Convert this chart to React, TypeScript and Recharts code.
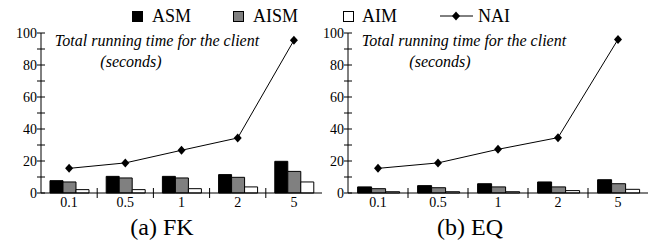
import React from "react";
import { ComposedChart, Bar, Line, XAxis, YAxis } from "recharts";

const categories = ["0.1", "0.5", "1", "2", "5"];
const yTicks = [0, 10, 20, 30, 40, 50, 60, 70, 80, 90, 100];

// (a) FK
const fkAsm = [7.7, 10.4, 10.4, 11.5, 19.8];
const fkAism = [6.9, 9.4, 9.4, 9.8, 13.5];
const fkAim = [2.1, 2.1, 2.7, 3.8, 6.9];
const fkNai = [15.4, 18.8, 26.7, 34.4, 95.4];

// (b) EQ
const eqAsm = [3.8, 4.6, 5.8, 6.9, 8.3];
const eqAism = [2.7, 3.3, 3.8, 3.8, 5.8];
const eqAim = [0.8, 0.8, 0.8, 1.5, 2.3];
const eqNai = [15.4, 18.8, 27.3, 34.6, 96];

const FONT = '"Liberation Serif", "Times New Roman", Times, "DejaVu Serif", serif';
const txt = { fontFamily: FONT };

const buildRows = (asm: number[], aism: number[], aim: number[], nai: number[]) =>
  categories.map((c, i) => ({ name: c, ASM: asm[i], AISM: aism[i], AIM: aim[i], NAI: nai[i] }));

const YTick = (props: any) => {
  const { x, y, payload } = props;
  return (
    <g>
      <line x1={x - 4} x2={x + 4} y1={y} y2={y} stroke="#000" strokeWidth={1} />
      {payload.value % 20 === 0 && (
        <text x={x - 4} y={y + 5} textAnchor="end" fontSize={14} style={txt} fill="#000">
          {payload.value}
        </text>
      )}
    </g>
  );
};

const XTick = (props: any) => {
  const { x, y, payload, index } = props;
  const half = payload.offset || 28;
  return (
    <g>
      {index < categories.length - 1 && (
        <line x1={x + half} x2={x + half} y1={y - 5} y2={y + 5} stroke="#000" strokeWidth={1} />
      )}
      <text x={x} y={y + 14} textAnchor="middle" fontSize={14} style={txt} fill="#000">
        {payload.value}
      </text>
    </g>
  );
};

const Diamond = (props: any) => {
  const { cx, cy } = props;
  if (cx == null || cy == null) return null;
  return <polygon points={`${cx},${cy - 4.5} ${cx + 4},${cy} ${cx},${cy + 4.5} ${cx - 4},${cy}`} fill="#000" />;
};

function Panel({ data, width, right }: { data: any[]; width: number; right: number }) {
  return (
    <ComposedChart
      width={width}
      height={242}
      data={data}
      margin={{ top: 33, right, bottom: 29, left: 0 }}
      barCategoryGap="16%"
      barGap={0}
    >
      <XAxis
        dataKey="name"
        height={20}
        axisLine={{ stroke: "#000" }}
        tickLine={false}
        tickSize={0}
        tickMargin={0}
        interval={0}
        tick={<XTick />}
      />
      <YAxis
        type="number"
        domain={[0, 100]}
        ticks={yTicks}
        width={41}
        axisLine={{ stroke: "#000" }}
        tickLine={false}
        tickSize={0}
        tickMargin={0}
        interval={0}
        tick={<YTick />}
      />
      <Bar dataKey="ASM" fill="#000" stroke="#000" strokeWidth={1} isAnimationActive={false} />
      <Bar dataKey="AISM" fill="#808080" stroke="#000" strokeWidth={1} isAnimationActive={false} />
      <Bar dataKey="AIM" fill="#fff" stroke="#000" strokeWidth={1} isAnimationActive={false} />
      <Line
        dataKey="NAI"
        stroke="#000"
        strokeWidth={1}
        dot={<Diamond />}
        activeDot={false}
        isAnimationActive={false}
      />
    </ComposedChart>
  );
}

export default function App() {
  const fk = buildRows(fkAsm, fkAism, fkAim, fkNai);
  const eq = buildRows(eqAsm, eqAism, eqAim, eqNai);
  return (
    <div style={{ position: "absolute", left: 0, top: 0, width: 654, height: 242, background: "#fff", overflow: "hidden", fontFamily: FONT }}>
      <div style={{ position: "absolute", left: 0, top: 0 }}>
        <Panel data={fk} width={327} right={5} />
      </div>
      <div style={{ position: "absolute", left: 307, top: 0 }}>
        <Panel data={eq} width={347} right={6} />
      </div>
      <svg width={654} height={242} style={{ position: "absolute", left: 0, top: 0, pointerEvents: "none", fontFamily: FONT }}>
        {/* legend */}
        <rect x={132.5} y={11.5} width={10} height={10} fill="#000" stroke="#000" />
        <text x={152} y={22} fontSize={18} style={txt}>ASM</text>
        <rect x={233.5} y={11.5} width={10} height={10} fill="#808080" stroke="#000" />
        <text x={253} y={22} fontSize={18} style={txt}>AISM</text>
        <rect x={343.5} y={11.5} width={10} height={10} fill="#fff" stroke="#000" />
        <text x={362} y={22} fontSize={18} style={txt}>AIM</text>
        <line x1={440} x2={473} y1={16} y2={16} stroke="#000" />
        <polygon points="456,11.5 460,16 456,20.5 452,16" fill="#000" />
        <text x={478} y={22} fontSize={18} style={txt}>NAI</text>

        {/* notes */}
        <text x={157} y={46} fontSize={16} fontStyle="italic" textAnchor="middle" style={txt}>Total running time for the client</text>
        <text x={131} y={67} fontSize={16} fontStyle="italic" textAnchor="middle" style={txt}>(seconds)</text>
        <text x={464} y={46} fontSize={16} fontStyle="italic" textAnchor="middle" style={txt}>Total running time for the client</text>
        <text x={440} y={67} fontSize={16} fontStyle="italic" textAnchor="middle" style={txt}>(seconds)</text>

        {/* captions */}
        <text x={162} y={235} fontSize={24} textAnchor="middle" style={txt}>(a) FK</text>
        <text x={470} y={235} fontSize={24} textAnchor="middle" style={txt}>(b) EQ</text>
      </svg>
    </div>
  );
}
